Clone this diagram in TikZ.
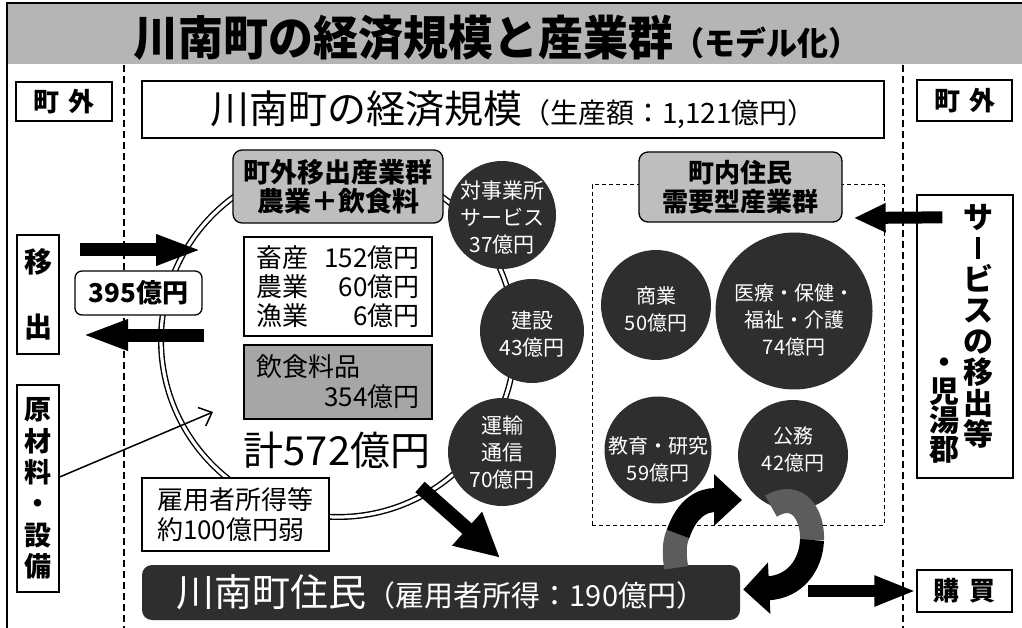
\documentclass[tikz,border=0pt]{standalone}
\usepackage{fontspec}
\setmainfont{Noto Sans CJK JP}
\usetikzlibrary{arrows.meta,calc}
\definecolor{bandgray}{HTML}{B5B5B5}
\definecolor{boxgray}{HTML}{BEBEBE}
\definecolor{foodgray}{HTML}{A6A6A6}
\definecolor{darkfill}{HTML}{2E2E2E}
\definecolor{midgray}{HTML}{5C5C5C}
\newcommand\fsz[2]{\fontsize{#1}{#2}\selectfont\lineskiplimit=-50pt\relax}
\newcommand\K{\vphantom{国}}
\tikzset{
  wbox/.style={draw, line width=1.3pt, fill=white, inner sep=0pt, align=center},
  gbox/.style={draw, line width=1.3pt, fill=boxgray, rounded corners=9pt, inner sep=0pt, align=center},
  dcirc/.style={circle, fill=darkfill, inner sep=0pt},
  ctext/.style={text=white, align=center, inner sep=0pt, font=\fsz{21}{27}},
  dashv/.style={line width=1.5pt, dash pattern=on 7pt off 4pt},
  bigarrow/.style={line width=13pt, -{Triangle[length=46pt,width=28pt]}},
}
\begin{document}
\begin{tikzpicture}[x=1pt,y=-1pt]
\useasboundingbox (0,0) rectangle (1022,628);
% title band and frame
\fill[bandgray] (7,3) rectangle (1022,64);
\draw[line width=2.5pt] (7,630) -- (7,3) -- (1025,3);
\node[font=\fsz{45}{50}\bfseries, inner sep=0pt, yscale=1.05] (title) at (496,38) {川南町の経済規模と産業群{\fsz{31}{32}（モデル化）}};
% dashed separators
\coordinate (dlt) at (124,65); \coordinate (dlb) at (124,628);
\coordinate (drt) at (903,65); \coordinate (drb) at (903,628);
\draw[dashv] (dlt) -- (dlb);
\draw[dashv] (drt) -- (drb);
% scale box
\node[wbox, minimum width=742pt, minimum height=57pt] (scale) at (513,109.5) {\fsz{39}{40}川南町の経済規模{\fsz{28}{30}（生産額：1,121億円）}};
% outside labels
\node[wbox, minimum width=96pt, minimum height=39pt, font=\fsz{26}{28}\bfseries] (outL) at (64,101.5) {町\hspace{9pt}外};
\node[wbox, minimum width=95pt, minimum height=41pt, font=\fsz{26}{28}\bfseries] (outR) at (964.5,100.5) {町\hspace{9pt}外};
\node[wbox, minimum width=42pt, minimum height=119pt, font=\fsz{28}{65}\bfseries] (ishutsu) at (38,294.5) {移\\出};
\node[wbox, minimum width=42pt, minimum height=207pt, font=\fsz{27}{31.4}\bfseries] (genzai) at (38,488.5) {原\\材\\料\\\K・\\設\\備};
% ring
\node[circle, draw, line width=1.4pt, double, double distance=3.2pt, minimum size=354pt, inner sep=0pt] (ring) at (338,340) {};
% left group
\node[gbox, minimum width=210pt, minimum height=73pt, font=\fsz{27}{29}\bfseries] (exportgrp) at (338,186.5) {町外移出産業群\\農業＋飲食料};
\node[wbox, minimum width=188pt, minimum height=99pt, font=\fsz{26}{29}] (agri) at (338,286.5)
  {\makebox[52pt][l]{畜産}\makebox[111pt][r]{152億円}\\\makebox[52pt][l]{農業}\makebox[111pt][r]{60億円}\\\makebox[52pt][l]{漁業}\makebox[111pt][r]{6億円}};
\node[wbox, fill=foodgray, minimum width=188pt, minimum height=74pt, font=\fsz{26}{30}] (food) at (338,382)
  {\makebox[163pt][l]{飲食料品}\\\makebox[163pt][r]{354億円}};
\node[font=\fsz{40}{42}, inner sep=0pt] (total) at (337,450) {計572億円};
\node[wbox, minimum width=187pt, minimum height=73pt, font=\fsz{26}{30}] (emp) at (235.5,514.5)
  {\makebox[157pt][l]{雇用者所得等}\\\makebox[157pt][l]{約100億円弱}};
\node[wbox, minimum width=127pt, minimum height=44pt, rounded corners=7pt, font=\fsz{26}{28}\bfseries] (v395) at (138.5,293) {395億円};
% service circles on ring
\node[dcirc, minimum size=108pt] (c1) at (502,215) {};
\node[ctext] (c1t) at (502,218) {対事業所\\サービス\\37億円};
\node[dcirc, minimum size=104pt] (c2) at (532,331) {};
\node[ctext] (c2t) at (532,334) {建設\\43億円};
\node[dcirc, minimum size=108pt] (c3) at (502,452) {};
\node[ctext] (c3t) at (502,453) {運輸\\通信\\70億円};
% resident demand group
\node[draw, dash pattern=on 4pt off 3pt, line width=1pt, minimum width=292pt, minimum height=340pt, inner sep=0pt] (demand) at (738,355) {};
\node[gbox, minimum width=203pt, minimum height=70pt, font=\fsz{26}{29}\bfseries] (naiju) at (740.5,187) {町内住民\\需要型産業群};
\node[dcirc, minimum size=110pt] (shou) at (656,305) {};
\node[ctext, font=\fsz{20}{27}] (shout) at (656,309) {商業\\50億円};
\node[dcirc, minimum size=157pt] (iryo) at (794,311) {};
\node[ctext, font=\fsz{20}{27}] (iryot) at (794,320) {医療・保健・\\福祉・介護\\74億円};
\node[dcirc, minimum size=107pt] (kyoiku) at (658,450) {};
\node[ctext, font=\fsz{20}{27}] (kyoikut) at (658,459) {教育・研究\\59億円};
\node[dcirc, minimum size=110pt] (koumu) at (793,455) {};
\node[ctext, font=\fsz{20}{27}] (koumut) at (793,449) {公務\\42億円};
% right side
\node[wbox, minimum width=96pt, minimum height=283pt] (svc) at (965,336.5) {};
\node[font=\fsz{30}{31}\bfseries, align=center, inner sep=0pt] (svc1) at (978,326) {サ\\\K\rule[0pt]{4.5pt}{22pt}\\ビ\\ス\\の\\移\\出\\等};
\node[font=\fsz{30}{29}\bfseries, align=center, inner sep=0pt] (svc2) at (944,406) {\K・\\児\\湯\\郡};
\node[wbox, minimum width=95pt, minimum height=42pt, font=\fsz{26}{28}\bfseries] (kobai) at (964.5,591) {購\hspace{10pt}買};
% residents box
\node[fill=darkfill, rounded corners=10pt, minimum width=598pt, minimum height=55pt, inner sep=0pt, text=white, font=\fsz{38}{40}] (juumin) at (441,592.5) {川南町住民{\fsz{29}{30}（雇用者所得：190億円）}};
% arrows
\coordinate (inS) at (80,250); \coordinate (inE) at (202,250);
\draw[bigarrow] (inS) -- (inE);
\coordinate (outS) at (204,335); \coordinate (outE) at (82,335);
\draw[bigarrow] (outS) -- (outE);
\coordinate (rawS) at ($(genzai.east)+(0,-11.5)$); \coordinate (rawE) at (213,412);
\draw[line width=1.5pt, -{Straight Barb[length=11pt,width=20pt]}] (rawS) -- (rawE);
\coordinate (svcS) at ($(svc.north west)+(26,23)$); \coordinate (svcE) at ($(naiju.east)+(11,31)$);
\draw[line width=12pt, -{Triangle[length=32pt,width=27pt]}] (svcS) -- (svcE);
\coordinate (buyS) at ($(juumin.east)+(68,-1.5)$);
\draw[line width=12pt, -{Triangle[length=42pt,width=28pt]}] (buyS) -- (kobai.west);
\coordinate (payS) at (420,487); \coordinate (payE) at ($(juumin.north)+(59,-7)$);
\draw[line width=14pt, -{Triangle[length=44pt,width=42pt]}] (payS) -- (payE);
% recycle arrows between residents and public services
\coordinate (r1a) at ($(juumin.north east)+(-64,3)$);
\coordinate (r1b) at (678,534);
\coordinate (r1c) at (742,500);
\draw[line width=24pt, midgray] (r1a) .. controls (674,554) and (674,543) .. (r1b);
\draw[line width=24pt, -{Triangle[length=28pt,width=50pt]}] (r1b) .. controls (687,508) and (702,500) .. (r1c);
\coordinate (r2a) at ($(koumu.south)+(-22,-4)$);
\coordinate (r2b) at (812,540);
\coordinate (r2c) at ($(juumin.east)+(3,-3)$);
\draw[line width=24pt, midgray] (r2a) .. controls (798,490) and (813,515) .. (r2b);
\draw[line width=24pt, -{Triangle[length=26pt,width=50pt]}] (r2b) .. controls (811,565) and (795,587) .. (r2c);
\end{tikzpicture}
\end{document}
